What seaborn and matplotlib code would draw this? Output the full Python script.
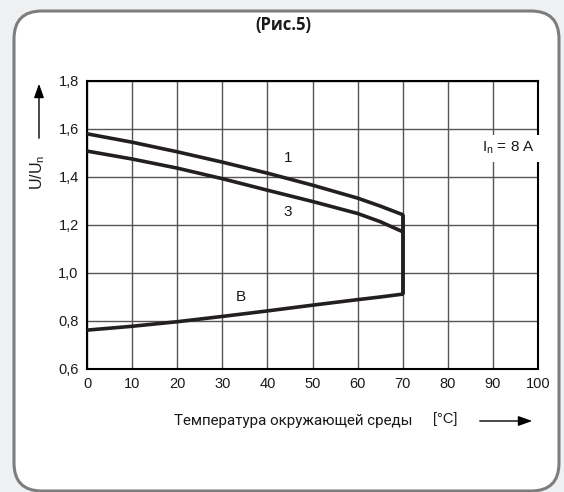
"""Рис.5: U/Un against ambient temperature, In = 8 A."""

import matplotlib

matplotlib.use("Agg")
import matplotlib.pyplot as plt
import pandas as pd
import seaborn as sns
from matplotlib.patches import FancyBboxPatch

TEMPS = [0, 10, 20, 30, 40, 50, 60, 65, 70]
CURVE_1 = [1.580, 1.545, 1.505, 1.462, 1.416, 1.366, 1.312, 1.279, 1.243]
CURVE_3 = [1.508, 1.475, 1.437, 1.393, 1.345, 1.298, 1.248, 1.214, 1.172]
CURVE_B = [0.762, 0.778, 0.797, 0.819, 0.842, 0.866, 0.889, 0.900, 0.912]

X_TICKS = list(range(0, 101, 10))
Y_TICKS = [0.6, 0.8, 1.0, 1.2, 1.4, 1.6, 1.8]
Y_TICK_LABELS = ["0,6", "0,8", "1,0", "1,2", "1,4", "1,6", "1,8"]

# label text and where it sits (data coords)
CURVE_LABELS = [("1", 44.6, 1.479), ("3", 44.4, 1.254), ("B", 34.0, 0.900)]

TITLE = "(Рис.5)"
X_LABEL = "Температура окружающей среды"
X_UNIT = "[°C]"
NOTE = r"I$_\mathrm{n}$ = 8 A"

INK = "#231f20"

sns.set_theme(style="white")
plt.rcParams["font.family"] = ["Liberation Sans", "DejaVu Sans"]
plt.rcParams["mathtext.fontset"] = "custom"
plt.rcParams["mathtext.rm"] = "Liberation Sans"
plt.rcParams["mathtext.it"] = "Liberation Sans"


def main() -> None:
    df = pd.DataFrame(
        {
            "t": TEMPS * 3,
            "u": CURVE_1 + CURVE_3 + CURVE_B,
            "curve": ["1"] * len(TEMPS) + ["3"] * len(TEMPS) + ["B"] * len(TEMPS),
        }
    )

    fig = plt.figure(figsize=(5.64, 4.92), dpi=100, facecolor="#eef0f2")
    frame = FancyBboxPatch(
        (0.14, 0.01), 5.45, 4.80,
        boxstyle="round,pad=0,rounding_size=0.28",
        transform=fig.dpi_scale_trans,
        facecolor="white", edgecolor="#7d7d7d", linewidth=2.2, zorder=-5,
    )
    fig.patches.append(frame)

    ax = fig.add_axes([87 / 564, 1 - 369 / 492, 451 / 564, 288 / 492])
    ax.set_facecolor("none")

    sns.lineplot(
        data=df, x="t", y="u", units="curve", estimator=None,
        color=INK, linewidth=2.6, ax=ax, legend=False, zorder=3,
    )
    ax.vlines(TEMPS[-1], CURVE_B[-1], CURVE_1[-1], color=INK, linewidth=2.8, zorder=3)

    ax.set_xlim(0, 100)
    ax.set_ylim(0.6, 1.8)
    ax.set_xticks(X_TICKS)
    ax.set_yticks(Y_TICKS)
    ax.set_yticklabels(Y_TICK_LABELS)
    ax.tick_params(length=0, labelsize=10.5, labelcolor="#1a1a1a", pad=6)
    ax.set_xlabel("")
    ax.set_ylabel("")
    ax.grid(True, color="#555555", linewidth=1.0)
    for side in ax.spines.values():
        side.set_color("black")
        side.set_linewidth(1.5)

    for text, x, y in CURVE_LABELS:
        ax.text(x, y, text, fontsize=11, ha="center", va="center", color="#1a1a1a", zorder=4)

    ax.text(
        93.5, 1.52, NOTE, fontsize=11, ha="center", va="center", color="#1a1a1a",
        bbox=dict(facecolor="white", edgecolor="none", pad=4), zorder=4,
    )

    fig.text(283 / 564, 1 - 25 / 492, TITLE, fontsize=12, fontweight="bold",
             family=["Open Sans", "DejaVu Sans"], ha="center", va="center", color="#1a1a1a")

    fig.text(413 / 564, 1 - 421 / 492, X_LABEL, fontsize=10.9, ha="right", va="center",
             family=["Roboto", "DejaVu Sans"], color="#1a1a1a")
    fig.text(433 / 564, 1 - 419 / 492, X_UNIT, fontsize=10.5, ha="left", va="center",
             color="#1a1a1a")
    fig.add_artist(plt.Annotation(
        "", xy=(535 / 564, 1 - 421 / 492), xytext=(477 / 564, 1 - 421 / 492),
        xycoords="figure fraction", textcoords="figure fraction",
        arrowprops=dict(arrowstyle="-|>,head_length=0.7,head_width=0.25", color="black", lw=1),
    ))

    fig.text(38 / 564, 1 - 172 / 492, r"U/U$_\mathrm{n}$", fontsize=11.5, rotation=90,
             ha="center", va="center", color="#1a1a1a")
    fig.add_artist(plt.Annotation(
        "", xy=(39 / 564, 1 - 81 / 492), xytext=(39 / 564, 1 - 141 / 492),
        xycoords="figure fraction", textcoords="figure fraction",
        arrowprops=dict(arrowstyle="-|>,head_length=0.7,head_width=0.25", color="black", lw=1),
    ))

    fig.savefig("out.png", dpi=100, facecolor=fig.get_facecolor())
    plt.close(fig)


if __name__ == "__main__":
    main()
